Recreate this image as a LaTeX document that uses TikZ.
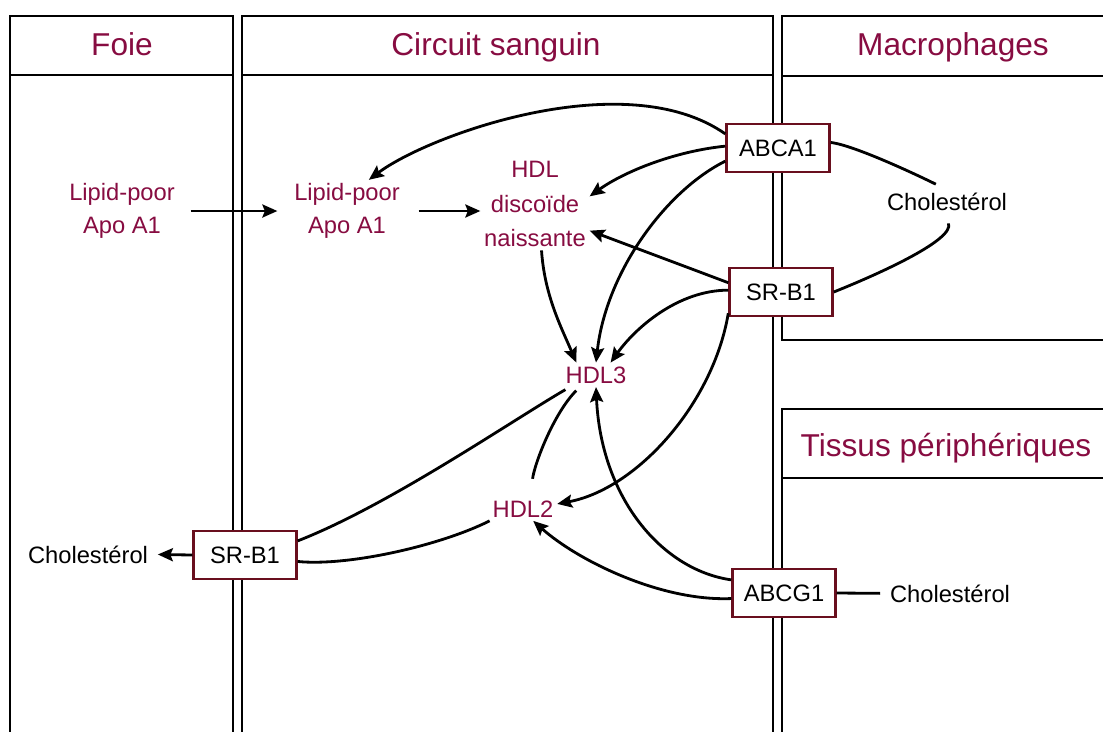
\documentclass[tikz,border=0pt]{standalone}
\usepackage{fontspec}
\setmainfont{Liberation Sans}
\usetikzlibrary{arrows.meta}
\definecolor{hdlred}{RGB}{135,12,65}
\definecolor{boxred}{RGB}{105,15,30}

\begin{document}
\begin{tikzpicture}[x=0.02cm,y=-0.02cm,
    panel/.style={line width=1.6pt},
    heading/.style={text=hdlred,font=\fontsize{18}{20}\selectfont},
    lipo/.style={text=hdlred,align=center,font=\fontsize{13.5}{18.5}\selectfont,inner sep=2pt},
    prot/.style={draw=boxred,line width=1.4pt,fill=white,minimum width=2.06cm,minimum height=0.96cm,font=\fontsize{13.5}{16}\selectfont},
    chol/.style={font=\fontsize{13.5}{16}\selectfont,inner sep=2pt},
    link/.style={line width=1.6pt},
    flow/.style={link,->},
    >={Stealth[length=3mm,width=2.6mm,inset=0.5mm]}]
        \useasboundingbox (0,0) rectangle (1103,731);
        \clip (0,0) rectangle (1103,731);

        % compartments
        \draw[panel] (10,16) rectangle (233,760);
        \draw[panel] (10,75) -- (233,75);
        \draw[panel] (242,16) rectangle (773,760);
        \draw[panel] (242,75) -- (773,75);
        \draw[panel] (782,16) rectangle (1120,340);
        \draw[panel] (782,76) -- (1120,76);
        \draw[panel] (782,409) rectangle (1120,760);
        \draw[panel] (782,478) -- (1120,478);

        \node[heading,anchor=base] (foie) at (122,55) {Foie};
        \node[heading,anchor=base] (circ) at (496,55) {Circuit sanguin};
        \node[heading,anchor=base] (macro) at (953,55) {Macrophages};
        \node[heading,anchor=base] (tissus) at (946,456) {Tissus périphériques};

        % lipoproteins
        \node[lipo] (lpl) at (122,211) {Lipid-poor\\Apo A1};
        \node[lipo] (lpm) at (347,211) {Lipid-poor\\Apo A1};
        \node[lipo,font=\fontsize{13.5}{19.5}\selectfont] (hdld) at (535,204) {HDL\\discoïde\\naissante};
        \node[lipo,anchor=base] (hdl3) at (596,383) {HDL3};
        \node[lipo,anchor=base] (hdl2) at (523,517) {HDL2};

        % transporters
        \node[prot] (abca) at (778,148) {ABCA1};
        \node[prot] (srbm) at (781,292) {SR-B1};
        \node[prot] (abcg) at (784,593) {ABCG1};
        \node[prot] (srbf) at (245,555) {SR-B1};

        \node[chol,anchor=base] (cholm) at (947,210) {Cholestérol};
        \node[chol,anchor=base] (cholf) at (88,563) {Cholestérol};
        \node[chol,anchor=base] (cholt) at (950,602) {Cholestérol};

        \draw[flow,shorten <=0.24cm,shorten >=0.26cm] (lpl.east) -- (lpm.west);
        \draw[flow,shorten <=0.3cm] (lpm.east) -- (lpm.east -| hdld.west);

        \draw[flow] (abca.165) .. controls +(-100,-70) and +(60,-45) .. (lpm.55);
        \draw[flow] (abca.178) .. controls +(-50,5) and +(35,-25) .. (hdld.8);
        \draw[flow] (abca.194) .. controls +(-60,30) and +(10,-90) .. (hdl3.north);
        \draw[flow] (srbm.170) -- (hdld.334);
        \draw[flow] (srbm.178) .. controls +(-50,0) and +(25,-35) .. (hdl3.40);
        \draw[flow] (srbm.202) .. controls +(-15,90) and +(80,-15) .. (hdl2.8);
        \draw[flow] (hdld.278) .. controls +(3,45) and +(-15,-35) .. (hdl3.148);
        \draw[link,shorten <=0.1cm,shorten >=0.36cm] (hdl3.217) .. controls +(-25,25) and +(5,-35) .. (hdl2.60);
        \draw[link,shorten <=0.1cm] (hdl3.205) .. controls +(-60,35) and +(90,-35) .. (srbf.15);
        \draw[link] (hdl2.200) .. controls +(-50,25) and +(50,5) .. (srbf.353);
        \draw[flow] (abcg.166) .. controls +(-70,-10) and +(5,110) .. (hdl3.south);
        \draw[flow] (abcg.186) .. controls +(-70,3) and +(45,40) .. (hdl2.310);

        \draw[link,shorten >=0.2cm] (abca.6) .. controls +(25,3) and +(-20,-10) .. (cholm.100);
        \draw[link,shorten >=0.2cm] (srbm.east) .. controls +(50,-20) and +(10,25) .. (cholm.260);
        \draw[flow,shorten >=0.12cm] (srbf.west) -- (cholf.east);
        \draw[link,shorten >=0.12cm] (abcg.east) -- (cholt.west);
    \end{tikzpicture}
\end{document}
